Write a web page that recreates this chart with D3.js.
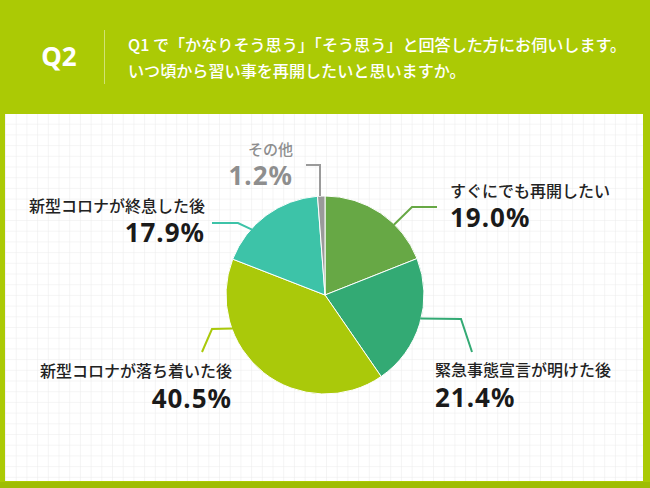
<!DOCTYPE html>
<html><head><meta charset="utf-8">
<script src="https://cdn.jsdelivr.net/npm/d3@7/dist/d3.min.js"></script>
<style>
html,body{margin:0;padding:0;background:#abca05;}
svg{display:block;}
</style></head>
<body>
<svg id="c" width="650" height="488"></svg>
<script>
// ---- data ----
const categories = ["すぐにでも再開したい","緊急事態宣言が明けた後","新型コロナが落ち着いた後","新型コロナが終息した後","その他"];
const values = [19.0, 21.4, 40.5, 17.9, 1.2];
const colors = ["#67a845","#33aa74","#aac90a","#3dc3a8","#9a9a9a"];
const questionLabel = "Q2";
const questionLines = ["Q1 で「かなりそう思う」「そう思う」と回答した方にお伺いします。","いつ頃から習い事を再開したいと思いますか。"];

// ---- layout ----
const W = 650, H = 488;
const svg = d3.select("#c");
const font = "'Noto Sans CJK JP','Noto Sans',sans-serif";

svg.append("rect").attr("width",W).attr("height",H).attr("fill","#abca05");
svg.append("rect").attr("x",0).attr("y",482).attr("width",W).attr("height",6).attr("fill","#9fbd04");

// grid pattern panel
const defs = svg.append("defs");
const gs = 10.7;
const pat = defs.append("pattern").attr("id","grid").attr("patternUnits","userSpaceOnUse")
  .attr("x",6).attr("y",114).attr("width",gs).attr("height",gs);
pat.append("rect").attr("width",gs).attr("height",gs).attr("fill","#ffffff");
pat.append("path").attr("d",`M${gs} 0 V${gs} M0 ${gs} H${gs}`).attr("stroke","#ebebeb").attr("stroke-width",1).attr("fill","none");
svg.append("rect").attr("x",5).attr("y",114).attr("width",638).attr("height",367).attr("fill","url(#grid)");

// header
svg.append("text").attr("x",59).attr("y",66).attr("text-anchor","middle")
  .attr("font-family","'Noto Sans',sans-serif").attr("font-weight",700).attr("font-size",26)
  .attr("fill","#fff").text(questionLabel);
svg.append("line").attr("x1",104.5).attr("x2",104.5).attr("y1",30).attr("y2",84)
  .attr("stroke","#ffffff").attr("stroke-opacity",0.45).attr("stroke-width",1);
svg.selectAll("text.q").data(questionLines).enter().append("text").attr("class","q")
  .attr("x",128).attr("y",(d,i)=>51+i*26)
  .attr("font-family",font).attr("font-weight",500).attr("font-size",16.1)
  .attr("fill","#fff").text(d=>d);

// pie
const cx = 325, cy = 295, R = 99;
const pie = d3.pie().sort(null).value(d=>d)(values);
const arc = d3.arc().innerRadius(0).outerRadius(R);
const g = svg.append("g").attr("transform",`translate(${cx},${cy})`);
g.selectAll("path").data(pie).enter().append("path")
  .attr("d",arc).attr("fill",(d,i)=>colors[i])
  .attr("stroke","#fff").attr("stroke-width",1);

// labels & leaders (layout offsets only)
const lab = [
  {anchor:"start", x:450, y1:197, y2:227, leader:[[0.65,0.99],[412,207],[437,207]]},
  {anchor:"start", x:435, y1:376, y2:407, leader:[[0.46,0.99],[461,319],[472,352]]},
  {anchor:"end",   x:232, y1:377, y2:408, leader:[[0.717,0.99],[212,329],[202,352]]},
  {anchor:"end",   x:205, y1:212, y2:242, leader:[[0.32,0.99],[238,223],[212,223]]},
  {anchor:"end",   x:293, y1:155, y2:185, leader:[[0.5,1.0],[320,165],[306,165]]}
];
function pt(d,f,rf){
  const a = d.startAngle + (d.endAngle-d.startAngle)*f;
  return [cx + R*rf*Math.sin(a), cy - R*rf*Math.cos(a)];
}
pie.forEach((d,i)=>{
  const L = lab[i];
  const p0 = pt(d,L.leader[0][0],L.leader[0][1]);
  let pts = [p0, L.leader[1], L.leader[2]];
  if(i===4){ pts = [[L.leader[1][0],p0[1]], L.leader[1], L.leader[2]]; }
  svg.append("path").attr("d",d3.line()(pts)).attr("fill","none")
    .attr("stroke",colors[i]).attr("stroke-width",2);
  const isOther = i===4;
  svg.append("text").attr("x",L.x).attr("y",L.y1).attr("text-anchor",L.anchor)
    .attr("font-family",font).attr("font-weight",500).attr("font-size",isOther?15:16)
    .attr("fill",isOther?"#8e8e8e":"#222").text(categories[i]);
  svg.append("text").attr("x",L.x).attr("y",L.y2).attr("text-anchor",L.anchor)
    .attr("font-family","'Noto Sans',sans-serif").attr("font-weight",700).attr("font-size",26)
    .attr("letter-spacing",1)
    .attr("fill",isOther?"#8e8e8e":"#1a1a1a").text(values[i].toFixed(1)+"%");
});
</script>
</body></html>
